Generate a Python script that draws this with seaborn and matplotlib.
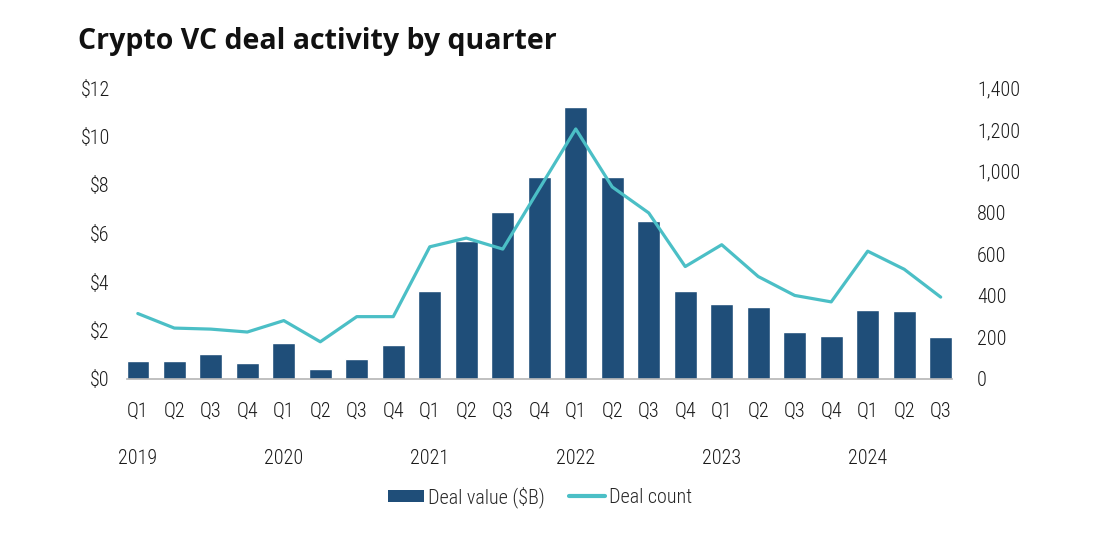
import numpy as np
import pandas as pd
import matplotlib
matplotlib.use("Agg")
import matplotlib.pyplot as plt
import matplotlib.ticker as mticker
from matplotlib import font_manager
from matplotlib.patches import Patch
from matplotlib.lines import Line2D
import seaborn as sns

# Data
years = ["2019", "2020", "2021", "2022", "2023", "2024"]
quarter_names = ["Q1", "Q2", "Q3", "Q4"]
quarters = [q for y in years for q in quarter_names][:23]
periods = [f"{y} {q}" for y in years for q in quarter_names][:23]

deal_value = [0.75, 0.75, 1.04, 0.66, 1.48, 0.43, 0.84, 1.41,
              3.62, 5.70, 6.90, 8.33, 11.22, 8.33, 6.53, 3.62,
              3.10, 2.97, 1.92, 1.78, 2.85, 2.81, 1.74]
deal_count = [315, 245, 240, 226, 281, 179, 300, 300,
              636, 678, 625, 915, 1203, 924, 799, 541,
              646, 493, 402, 371, 615, 528, 394]

df = pd.DataFrame({"period": periods, "quarter": quarters,
                   "value": deal_value, "count": deal_count})
df["pos"] = np.arange(len(df))

bar_color = "#1f4e79"
line_color = "#4bbfc6"

sns.set_style("white")
available = {f.name for f in font_manager.fontManager.ttflist}
narrow = [f for f in ["Liberation Sans Narrow", "DejaVu Sans Condensed", "Roboto Condensed",
                      "Open Sans Condensed", "Liberation Sans"] if f in available]
plt.rcParams["font.family"] = narrow[:1] + ["DejaVu Sans"]
plt.rcParams["font.weight"] = "light"
title_font = "Open Sans" if "Open Sans" in available else "DejaVu Sans"

fs = 14.5
txt = "#1a1a1a"

fig = plt.figure(figsize=(11, 5.35), dpi=100)
ax = fig.add_axes([126.5 / 1100, 1 - 379 / 535, (952 - 126.5) / 1100, (379 - 88) / 535])

sns.barplot(data=df, x="period", y="value", color=bar_color, width=0.62,
            saturation=1, ax=ax)
ax2 = ax.twinx()
sns.lineplot(x=df["pos"], y=df["count"], color=line_color, linewidth=2.3, ax=ax2)

ax.set_xlim(-0.31, len(df) - 1 + 0.31)
ax.set_ylim(0, 12)
ax2.set_ylim(0, 1400)
ax.set_yticks(range(0, 13, 2))
ax2.set_yticks(range(0, 1401, 200))
ax.yaxis.set_major_formatter(mticker.FuncFormatter(lambda v, p: f"${v:.0f}"))
ax2.yaxis.set_major_formatter(mticker.FuncFormatter(lambda v, p: f"{v:,.0f}"))

ax.set_xticks(df["pos"])
ax.set_xticklabels(df["quarter"])
ax.set_xlabel("")
ax.set_ylabel("")
ax2.set_xlabel("")
ax2.set_ylabel("")

for a in (ax, ax2):
    for s in a.spines.values():
        s.set_visible(False)
    a.tick_params(length=0, labelsize=fs, colors=txt)
ax.spines["bottom"].set_visible(True)
ax.spines["bottom"].set_color("#b5b5b5")
ax.spines["bottom"].set_linewidth(1.2)
ax.tick_params(axis="x", pad=16)
ax.tick_params(axis="y", pad=12)
ax2.tick_params(axis="y", pad=18)

# year labels under each Q1
for i, y in enumerate(years):
    ax.text(i * 4, -0.272, y, transform=ax.get_xaxis_transform(), ha="center",
            va="center", fontsize=fs, color=txt)

fig.text(78 / 1100, 1 - 42 / 535, "Crypto VC deal activity by quarter", fontsize=20.5,
         fontweight="bold", family=title_font, va="center", ha="left", color="#111111")

handles = [Patch(facecolor=bar_color, edgecolor="none"),
           Line2D([0], [0], color=line_color, linewidth=3)]
fig.legend(handles, ["Deal value ($B)", "Deal count"], loc="center",
           bbox_to_anchor=(540 / 1100, 1 - 497 / 535), ncol=2, frameon=False,
           fontsize=fs, handlelength=1.8, handleheight=0.6, handletextpad=0.2,
           columnspacing=1.2)

fig.savefig("out.png", dpi=100)
